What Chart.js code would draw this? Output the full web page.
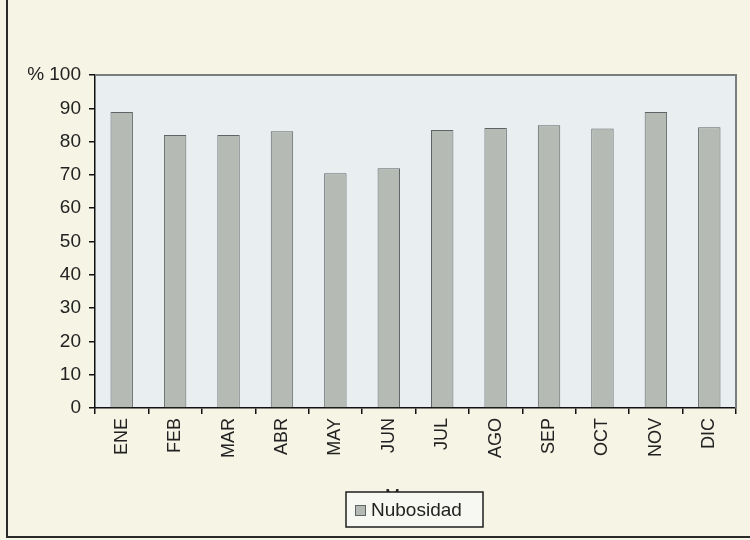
<!DOCTYPE html>
<html>
<head>
<meta charset="utf-8">
<script src="https://cdn.jsdelivr.net/npm/chart.js@4"></script>
<style>
  html, body { margin: 0; padding: 0; background: #f5f4e5; overflow: hidden; }
  #wrap { position: relative; width: 750px; height: 540px; }
  #frame { position: absolute; left: 6px; top: -10px; width: 800px; height: 546px;
           border-left: 2px solid #2a2a2a; border-bottom: 2px solid #2a2a2a; }
  canvas { position: absolute; left: 0; top: 0; }
</style>
</head>
<body>
<div id="wrap">
  <div id="frame"></div>
  <canvas id="nubChart" width="750" height="540"></canvas>
</div>
<script>
  var meses = ["ENE", "FEB", "MAR", "ABR", "MAY", "JUN", "JUL", "AGO", "SEP", "OCT", "NOV", "DIC"];
  var nubosidad = [88.9, 82.0, 82.0, 83.1, 70.5, 72.0, 83.5, 84.1, 84.9, 83.9, 88.9, 84.3];
  var serieNombre = "Nubosidad";
  var ejeX = "Meses";

  var fuente = "'Liberation Sans', Arial, sans-serif";
  var barColor = "#b5bbb4";
  var barBorder = "#606466";

  // fondo del area de trazado + marco
  var areaPlugin = {
    id: "area",
    beforeDraw: function (chart) {
      var a = chart.chartArea, c = chart.ctx;
      c.save();
      c.fillStyle = "#e9eef0";
      c.fillRect(a.left, a.top, a.right - a.left, a.bottom - a.top);
      c.restore();
    },
    afterDraw: function (chart) {
      var a = chart.chartArea, c = chart.ctx;
      c.save();
      c.strokeStyle = "#7a7d80";
      c.lineWidth = 2;
      c.beginPath();
      c.moveTo(a.left, a.top);
      c.lineTo(a.right, a.top);
      c.lineTo(a.right, a.bottom);
      c.stroke();

      // titulo del eje (tapado casi entero por la leyenda)
      var cx = (a.left + a.right) / 2 + 1;
      c.fillStyle = "#222";
      c.font = "18px " + fuente;
      c.textAlign = "center";
      c.textBaseline = "top";
      c.fillText(ejeX, cx - 5, 488);

      // leyenda
      var lx = 346, ly = 492, lw = 137, lh = 35;
      c.fillStyle = "#f8f8f2";
      c.fillRect(lx, ly, lw, lh);
      c.strokeStyle = "#1e1e1e";
      c.lineWidth = 1.5;
      c.strokeRect(lx, ly, lw, lh);
      c.fillStyle = barColor;
      c.fillRect(lx + 9, ly + 13, 10, 10);
      c.strokeStyle = barBorder;
      c.lineWidth = 1;
      c.strokeRect(lx + 9.5, ly + 13.5, 10, 10);
      c.fillStyle = "#222";
      c.textAlign = "left";
      c.textBaseline = "middle";
      c.font = "19px " + fuente;
      c.fillText(serieNombre, lx + 25, ly + lh / 2 + 1);
      c.restore();
    }
  };

  var ctx = document.getElementById("nubChart").getContext("2d");
  var myChart = new Chart(ctx, {
    type: "bar",
    data: {
      labels: meses,
      datasets: [{
        label: serieNombre,
        data: nubosidad,
        backgroundColor: barColor,
        borderColor: barBorder,
        borderWidth: 1,
        barPercentage: 0.42,
        categoryPercentage: 1
      }]
    },
    options: {
      responsive: false,
      animation: false,
      layout: { padding: { top: 75, right: 14, left: 0, bottom: 0 } },
      plugins: {
        legend: { display: false },
        tooltip: { enabled: false }
      },
      scales: {
        x: {
          afterFit: function (s) { s.height = 132; },
          grid: { offset: true, drawOnChartArea: false, color: "#111", tickLength: 6, lineWidth: 1.5 },
          border: { color: "#111", width: 1.5 },
          ticks: {
            color: "#222",
            font: { family: fuente, size: 18 },
            minRotation: 90, maxRotation: 90,
            padding: 4
          }
        },
        y: {
          min: 0, max: 100,
          afterFit: function (s) { s.width = 95; },
          grid: { drawOnChartArea: false, color: "#111", tickLength: 6, lineWidth: 1.5 },
          border: { color: "#111", width: 1.5 },
          ticks: {
            stepSize: 10,
            color: "#222",
            font: { family: fuente, size: 19 },
            padding: 8,
            callback: function (v) { return v === 100 ? "% 100" : v; }
          }
        }
      }
    },
    plugins: [areaPlugin]
  });
</script>
</body>
</html>
